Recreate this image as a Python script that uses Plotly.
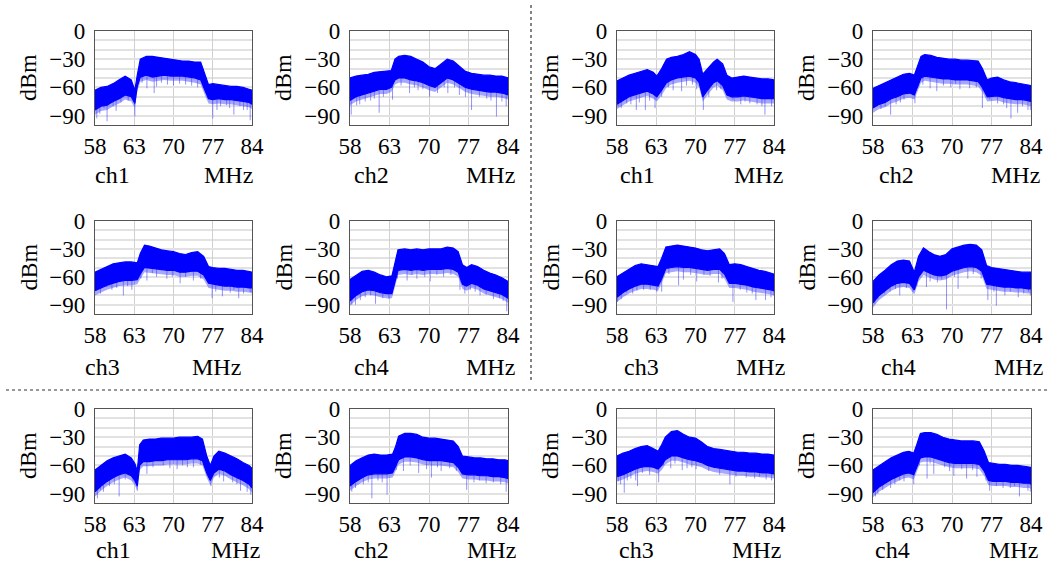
import numpy as np
import plotly.graph_objects as go

W, H = 1051, 566

# ---- axis ticks ----
X_TICK_POS = [58, 64.5, 71, 77.5, 84]
X_TICK_TEXT = ["58", "63", "70", "77", "84"]
Y_TICK_VALS = [0, -30, -60, -90]
Y_TICK_TEXT = ["0", "\u221230", "\u221260", "\u221290"]
CH_LABELS = ["ch1", "ch2", "ch1", "ch2", "ch3", "ch4", "ch3", "ch4", "ch1", "ch2", "ch3", "ch4"]

# ---- panel 1 ----
p1_x = [58, 59, 60, 61, 62, 63, 64, 64.6, 65.0, 65.5, 66.5, 67.5, 68.5, 69.5, 70.5, 71.5, 72.5, 73.5, 74.5, 75.5, 76.2, 76.8, 77.5, 78.5, 79.5, 80.5, 81.5, 82.5, 83.5, 84]
p1_top = [-63, -60, -59, -56, -52, -48, -52, -63, -47, -30, -27, -27, -28, -29, -30, -31, -32, -32, -33, -33, -45, -57, -56, -57, -58, -59, -59, -60, -62, -63]
p1_bot = [-84, -80, -79, -75, -72, -68, -70, -77, -59, -49, -47, -49, -48, -47, -48, -48, -48, -49, -50, -52, -63, -72, -73, -72, -73, -73, -74, -75, -76, -78]
p1_sx = [58.3, 58.8, 60.0, 61.5, 64.6, 66.6, 67.8, 68.2, 71.0, 73.0, 77.5, 78.2, 81.0, 82.6, 83.7,
         59.5, 61.0, 62.3, 63.5, 65.8, 69.0, 70.0, 72.0, 74.0, 75.0, 78.8, 79.8, 80.3, 82.0, 83.2]
p1_sy = [-93, -88, -96, -85, -91, -61, -66, -59, -58, -57, -93, -84, -89, -84, -95,
         -82, -80, -76, -74, -55, -55, -57, -56, -58, -60, -80, -79, -82, -80, -84]

# ---- panel 2 ----
p2_x = [58, 59, 60, 61, 62, 63, 64, 64.8, 65.4, 66, 67, 68, 69, 70, 71, 72, 73, 74, 75, 76, 77, 78, 79, 80, 81, 82, 83, 84]
p2_top = [-50, -48, -47, -46, -44, -43, -42, -42, -30, -27, -26, -27, -30, -33, -38, -40, -35, -30, -32, -38, -43, -45, -46, -47, -47, -48, -48, -50]
p2_bot = [-74, -70, -68, -66, -64, -62, -62, -60, -52, -50, -50, -52, -53, -55, -58, -60, -55, -50, -52, -56, -60, -62, -63, -64, -65, -65, -66, -68]
p2_sx = [58.2, 59.1, 60.5, 62.8, 65.0, 67.8, 69.2, 71.1, 74.1, 76.0, 78.0, 79.3, 82.1, 83.7,
         59.6, 61.4, 62.0, 63.5, 66.4, 68.6, 70.0, 72.4, 73.5, 75.2, 77.0, 80.5, 81.2, 83.0]
p2_sy = [-89, -79, -75, -87, -73, -66, -63, -70, -66, -68, -84, -70, -91, -80,
         -78, -74, -72, -70, -58, -60, -62, -66, -60, -60, -70, -72, -74, -75]

# ---- panel 3 ----
p3_x = [58, 59, 60, 61, 62, 63, 64, 64.6, 65.4, 66.2, 67, 68, 69, 70, 71, 71.6, 72.2, 73, 74, 74.6, 75.5, 76.2, 77, 78, 79, 80, 81, 82, 83, 84]
p3_top = [-53, -50, -47, -45, -43, -41, -44, -48, -40, -30, -28, -27, -25, -22, -25, -30, -46, -40, -33, -30, -35, -47, -50, -49, -48, -49, -50, -51, -51, -52]
p3_bot = [-78, -74, -70, -68, -66, -64, -67, -70, -63, -55, -52, -50, -49, -48, -50, -55, -70, -63, -55, -53, -58, -68, -70, -70, -69, -70, -71, -72, -72, -72]
p3_sx = [58.2, 59.6, 61.2, 62.7, 64.3, 65.4, 67.3, 68.7, 72.3, 74.5, 77.2, 80.0, 82.5, 83.6,
         58.7, 60.3, 61.7, 63.4, 66.5, 69.5, 70.5, 71.2, 73.2, 75.2, 78.5, 79.2, 81.2, 82.0]
p3_sy = [-80, -77, -84, -84, -82, -70, -63, -64, -84, -63, -73, -77, -89, -80,
         -82, -78, -76, -74, -60, -58, -57, -62, -70, -62, -78, -75, -78, -80]

# ---- panel 4 ----
p4_x = [58, 59, 60, 61, 62, 63, 64, 64.8, 65.3, 65.9, 66.5, 67.5, 68.5, 69.5, 70.5, 71.5, 72.5, 73.5, 74.5, 75.3, 76.0, 76.8, 77.5, 78.5, 79.5, 80.5, 81.5, 82.5, 83.5, 84]
p4_top = [-61, -58, -55, -52, -49, -46, -45, -47, -38, -27, -25, -26, -28, -29, -30, -30, -31, -31, -32, -32, -40, -52, -50, -49, -52, -54, -55, -56, -57, -58]
p4_bot = [-82, -78, -76, -72, -70, -67, -66, -68, -60, -50, -48, -49, -50, -51, -51, -52, -52, -52, -53, -54, -60, -70, -70, -69, -71, -72, -73, -73, -74, -75]
p4_sx = [58.4, 60.9, 63.1, 64.9, 67.4, 68.5, 72.3, 73.9, 76.0, 77.2, 80.7, 81.8, 83.5,
         59.3, 60.0, 61.8, 62.5, 66.2, 69.6, 70.8, 71.6, 75.0, 78.5, 79.5, 80.0, 82.6, 83.9]
p4_sy = [-80, -89, -73, -77, -61, -64, -62, -61, -82, -73, -93, -87, -84,
         -83, -80, -78, -76, -57, -58, -60, -56, -60, -77, -78, -82, -80, -84]

# ---- panel 5 ----
p5_x = [58, 59, 60, 61, 62, 63, 64, 65, 65.5, 66.2, 67, 68, 69, 70, 71, 72, 73, 74, 75, 76, 76.8, 77.5, 78.5, 79.5, 80.5, 81.5, 82.5, 83.5, 84]
p5_top = [-55, -52, -49, -46, -45, -44, -44, -45, -35, -26, -27, -29, -31, -32, -33, -35, -36, -34, -33, -38, -49, -50, -51, -51, -52, -53, -53, -54, -55]
p5_bot = [-75, -72, -69, -67, -65, -64, -64, -63, -57, -50, -50, -51, -52, -53, -53, -55, -55, -54, -54, -58, -67, -68, -69, -70, -70, -71, -71, -72, -72]
p5_sx = [58.3, 59.9, 62.7, 64.1, 66.6, 68.2, 69.9, 72.1, 74.3, 77.4, 79.1, 81.8, 83.7,
         58.9, 60.8, 61.6, 63.4, 65.6, 67.5, 70.8, 73.0, 75.5, 78.0, 80.4, 81.0, 82.6, 84.0]
p5_sy = [-74, -71, -80, -74, -64, -60, -62, -67, -64, -83, -81, -83, -77,
         -78, -74, -72, -70, -62, -56, -60, -60, -62, -76, -77, -74, -78, -78]

# ---- panel 6 ----
p6_x = [58, 59, 60, 61, 62, 63, 64, 64.9, 65.4, 65.9, 67, 68, 69, 70, 71, 72, 73, 74, 75, 75.8, 76.5, 77.2, 78, 79, 80, 81, 82, 83, 84]
p6_top = [-63, -58, -54, -53, -55, -58, -60, -59, -45, -31, -30, -31, -30, -31, -30, -30, -30, -28, -29, -33, -47, -50, -47, -49, -53, -56, -58, -61, -65]
p6_bot = [-86, -80, -76, -74, -75, -77, -78, -78, -66, -53, -52, -53, -52, -53, -52, -52, -52, -51, -52, -55, -68, -70, -67, -69, -73, -75, -77, -79, -83]
p6_sx = [58.3, 59.7, 62.2, 64.4, 67.4, 69.0, 71.2, 73.4, 76.1, 76.9, 79.4, 81.6, 83.8,
         58.9, 60.5, 61.4, 63.4, 65.8, 68.2, 70.3, 72.3, 74.6, 77.8, 78.6, 80.4, 82.6, 83.2]
p6_sy = [-90, -85, -89, -84, -64, -62, -65, -60, -74, -78, -80, -84, -97,
         -90, -82, -80, -83, -62, -58, -60, -58, -58, -74, -76, -79, -83, -86]

# ---- panel 7 ----
p7_x = [58, 59, 60, 61, 62, 63, 64, 64.8, 65.4, 66.1, 67, 68, 69, 70, 71, 72, 73, 74, 75, 75.8, 76.6, 77.5, 78.5, 79.5, 80.5, 81.5, 82.5, 83.5, 84]
p7_top = [-60, -56, -52, -48, -46, -47, -48, -49, -40, -28, -27, -26, -27, -28, -29, -31, -32, -31, -30, -35, -47, -46, -47, -49, -51, -53, -54, -56, -57]
p7_bot = [-82, -77, -73, -70, -68, -68, -69, -70, -62, -51, -50, -49, -50, -50, -51, -52, -53, -52, -52, -57, -67, -67, -68, -69, -71, -72, -73, -74, -75]
p7_sx = [58.1, 59.6, 62.4, 65.4, 68.2, 69.0, 71.2, 73.4, 74.8, 77.2, 81.0, 82.6,
         58.7, 60.6, 61.3, 63.5, 64.6, 66.6, 70.2, 72.4, 75.4, 78.4, 79.5, 80.4, 83.5, 84.0]
p7_sy = [-87, -77, -74, -76, -69, -63, -65, -59, -66, -87, -85, -85,
         -84, -78, -75, -74, -76, -57, -58, -58, -62, -74, -77, -78, -82, -80]

# ---- panel 8 ----
p8_x = [58, 59, 60, 61, 62, 63, 64, 64.8, 65.5, 66.3, 67.2, 68, 69, 70, 71, 72, 73, 74, 75, 75.9, 76.7, 77.5, 78.5, 79.5, 80.5, 81.5, 82.5, 83.5, 84]
p8_top = [-65, -58, -53, -47, -43, -42, -43, -55, -38, -29, -33, -36, -38, -36, -30, -28, -26, -25, -26, -31, -48, -50, -51, -52, -53, -54, -55, -55, -55]
p8_bot = [-88, -80, -75, -70, -67, -66, -67, -74, -60, -53, -56, -58, -59, -58, -54, -52, -50, -49, -50, -54, -68, -69, -70, -71, -71, -72, -72, -73, -73]
p8_sx = [58.3, 59.9, 62.4, 64.6, 66.8, 67.4, 70.1, 72.0, 73.6, 76.9, 78.3, 79.7, 81.9, 83.6,
         58.8, 60.8, 61.7, 63.5, 65.2, 68.6, 69.3, 71.4, 74.5, 75.8, 77.9, 80.6, 82.8, 83.9]
p8_sy = [-89, -78, -80, -76, -71, -65, -95, -73, -62, -85, -91, -80, -82, -76,
         -84, -76, -73, -72, -70, -66, -63, -60, -57, -62, -76, -76, -78, -80]

# ---- panel 9 ----
p9_x = [58, 59, 60, 61, 62, 63, 64, 64.6, 65.0, 65.4, 66, 67, 68, 69, 70, 71, 72, 73, 74, 75, 75.8, 76.5, 77.1, 77.7, 78.5, 79.5, 80.5, 81.5, 82.5, 83.5, 84]
p9_top = [-65, -60, -55, -52, -50, -48, -52, -58, -66, -38, -33, -32, -32, -31, -31, -31, -30, -30, -30, -29, -32, -50, -60, -50, -45, -47, -50, -53, -57, -60, -63]
p9_bot = [-88, -82, -77, -73, -70, -68, -71, -76, -82, -60, -56, -56, -55, -55, -54, -54, -54, -54, -53, -53, -55, -68, -76, -68, -64, -66, -70, -73, -76, -80, -84]
p9_sx = [58.4, 58.9, 62.0, 65.0, 66.6, 71.6, 73.3, 75.5, 77.2, 79.3, 82.1, 83.8,
         59.4, 60.4, 61.2, 63.0, 64.3, 67.6, 69.3, 70.4, 72.5, 74.3, 78.6, 80.8, 81.5, 83.2]
p9_sy = [-95, -86, -93, -87, -69, -64, -62, -59, -82, -77, -87, -91,
         -88, -82, -80, -75, -77, -62, -60, -63, -60, -62, -73, -78, -80, -88]

# ---- panel 10 ----
p10_x = [58, 59, 60, 61, 62, 63, 64, 65, 65.5, 66, 67, 68, 69, 70, 71, 72, 73, 74, 75, 75.8, 76.5, 77.5, 78.5, 79.5, 80.5, 81.5, 82.5, 83.5, 84]
p10_top = [-60, -55, -52, -49, -48, -49, -49, -48, -40, -29, -26, -26, -27, -30, -31, -31, -32, -33, -34, -40, -50, -51, -52, -52, -53, -53, -54, -54, -55]
p10_bot = [-82, -77, -73, -70, -69, -69, -69, -68, -62, -54, -51, -51, -52, -54, -55, -55, -55, -56, -57, -62, -69, -70, -70, -71, -71, -72, -72, -73, -74]
p10_sx = [58.3, 61.6, 64.1, 66.8, 69.3, 71.4, 73.0, 74.4, 77.2, 80.4, 83.7,
          58.9, 60.2, 61.0, 62.6, 63.3, 65.6, 67.9, 70.6, 72.4, 75.5, 78.4, 79.3, 81.6, 82.8]
p10_sy = [-88, -95, -91, -66, -68, -73, -66, -63, -86, -79, -88,
          -84, -80, -78, -76, -78, -65, -60, -64, -62, -66, -78, -76, -78, -80]

# ---- panel 11 ----
p11_x = [58, 59, 60, 61, 62, 63, 64, 64.8, 65.4, 66, 67, 68, 69, 70, 71, 72, 73, 74, 75, 76, 77, 78, 79, 80, 81, 82, 83, 84]
p11_top = [-50, -47, -45, -42, -40, -39, -42, -45, -38, -30, -24, -23, -27, -30, -31, -35, -40, -42, -43, -44, -45, -46, -46, -47, -47, -48, -48, -49]
p11_bot = [-72, -70, -67, -64, -62, -61, -62, -64, -60, -54, -50, -50, -52, -54, -55, -57, -60, -62, -63, -64, -65, -66, -66, -67, -67, -68, -68, -69]
p11_sx = [58.2, 59.2, 61.1, 61.4, 63.4, 64.9, 66.9, 68.8, 69.6, 76.7, 79.4, 82.7,
          58.6, 59.7, 60.3, 62.2, 65.7, 67.6, 70.4, 71.1, 73.2, 75.0, 77.7, 80.8, 81.6, 83.6]
p11_sy = [-77, -89, -76, -82, -70, -78, -63, -65, -63, -80, -73, -75,
          -80, -76, -74, -68, -60, -58, -62, -64, -66, -70, -72, -74, -72, -76]

# ---- panel 12 ----
p12_x = [58, 59, 60, 61, 62, 63, 63.9, 64.7, 65.2, 65.8, 66.5, 67.5, 68.5, 69.5, 70.5, 71.5, 72.5, 73.5, 74.5, 75.5, 76.3, 77, 77.8, 78.8, 79.8, 80.8, 81.8, 82.8, 83.8, 84]
p12_top = [-65, -60, -56, -52, -49, -46, -45, -47, -38, -26, -25, -25, -27, -30, -32, -33, -34, -34, -34, -35, -45, -57, -58, -59, -59, -60, -60, -61, -62, -62]
p12_bot = [-89, -83, -79, -75, -72, -69, -68, -70, -62, -52, -51, -51, -53, -55, -57, -58, -58, -58, -58, -59, -66, -76, -77, -77, -77, -78, -78, -79, -79, -80]
p12_sx = [58.4, 60.9, 63.1, 64.7, 66.9, 68.0, 71.3, 73.4, 75.1, 77.2, 79.4, 82.1, 83.5,
          58.8, 59.6, 61.6, 62.4, 65.6, 67.4, 69.8, 70.6, 72.6, 74.4, 76.6, 78.3, 80.6, 81.3, 83.9]
p12_sy = [-93, -84, -77, -80, -74, -69, -71, -74, -72, -87, -84, -93, -87,
          -90, -86, -80, -76, -60, -58, -62, -66, -64, -65, -76, -82, -84, -82, -88]

PANELS = [
    (p1_x, p1_top, p1_bot, p1_sx, p1_sy),
    (p2_x, p2_top, p2_bot, p2_sx, p2_sy),
    (p3_x, p3_top, p3_bot, p3_sx, p3_sy),
    (p4_x, p4_top, p4_bot, p4_sx, p4_sy),
    (p5_x, p5_top, p5_bot, p5_sx, p5_sy),
    (p6_x, p6_top, p6_bot, p6_sx, p6_sy),
    (p7_x, p7_top, p7_bot, p7_sx, p7_sy),
    (p8_x, p8_top, p8_bot, p8_sx, p8_sy),
    (p9_x, p9_top, p9_bot, p9_sx, p9_sy),
    (p10_x, p10_top, p10_bot, p10_sx, p10_sy),
    (p11_x, p11_top, p11_bot, p11_sx, p11_sy),
    (p12_x, p12_top, p12_bot, p12_sx, p12_sy),
]

# ---- layout geometry (pixels) ----
COLS = [(95, 252), (350, 508), (617, 774), (873, 1031)]
ROWS = [(31, 125), (221, 314), (409, 503)]
CH_LEFT = [93, 352, 618, 877, 83, 352, 622, 879, 94, 352, 617, 873]
MHZ_RIGHT = [255, 517, 785, 1042, 243, 517, 787, 1045, 262, 518, 783, 1040]
LABEL_ROW_Y = [175, 367, 550]

FONT = "Liberation Serif, Times New Roman, serif"
BLUE = "rgb(0,0,255)"
FRINGE = 5  # dB of lighter fringe drawn under each band

fig = go.Figure()
layout = dict(
    width=W, height=H, margin=dict(l=0, r=0, t=0, b=0, autoexpand=False),
    paper_bgcolor="white", plot_bgcolor="white", showlegend=False,
)
annotations = []

for i, (xs, top, bot, sx, sy) in enumerate(PANELS):
    r, c = divmod(i, 4)
    x0, x1 = COLS[c]
    y0, y1 = ROWS[r]
    k = "" if i == 0 else str(i + 1)
    xa, ya = "x" + k, "y" + k
    xs_l = list(xs)
    bot_a = np.array(bot, dtype=float)

    # downward spikes (drawn beneath the band)
    spx, spy = [], []
    anchor = np.interp(sx, xs, bot)
    for a, b, yy in zip(sx, anchor, sy):
        spx += [a, a, None]
        spy += [b + 4, yy, None]
    fig.add_trace(go.Scatter(x=spx, y=spy, mode="lines", xaxis=xa, yaxis=ya,
                             line=dict(color="rgba(40,40,255,0.5)", width=1),
                             hoverinfo="skip"))
    # light fringe under the band
    fig.add_trace(go.Scatter(x=xs_l + xs_l[::-1], y=list(bot_a + 2) + list(bot_a - FRINGE)[::-1],
                             mode="lines", fill="toself", fillcolor="rgba(60,60,255,0.45)",
                             line=dict(width=0), xaxis=xa, yaxis=ya, hoverinfo="skip"))
    # dense band
    fig.add_trace(go.Scatter(x=xs_l + xs_l[::-1], y=list(top) + list(bot)[::-1],
                             mode="lines", fill="toself", fillcolor=BLUE,
                             line=dict(color=BLUE, width=1.2), xaxis=xa, yaxis=ya,
                             hoverinfo="skip"))

    layout["xaxis" + k] = dict(
        domain=[x0 / W, x1 / W], range=[58, 84], anchor=ya, automargin=False,
        tickmode="array", tickvals=X_TICK_POS, ticktext=X_TICK_TEXT,
        showgrid=True, gridcolor="#d0d0d0", gridwidth=1, zeroline=False,
        showline=True, mirror=True, linecolor="#555555", linewidth=1.3,
        ticks="", ticklabelstandoff=0,
        tickfont=dict(family=FONT, size=23, color="black"), fixedrange=True,
    )
    layout["yaxis" + k] = dict(
        domain=[1 - y1 / H, 1 - y0 / H], range=[-100, 0], anchor=xa, automargin=False,
        tickmode="array", tickvals=Y_TICK_VALS, ticktext=Y_TICK_TEXT,
        showgrid=True, gridcolor="#e2e2e2", gridwidth=1.5, zeroline=False,
        minor=dict(tickmode="array", tickvals=[-10, -20, -40, -50, -70, -80],
                   showgrid=True, gridcolor="#e2e2e2", gridwidth=1.5, ticks=""),
        showline=True, mirror=True, linecolor="#555555", linewidth=1.3,
        ticks="", ticklabelstandoff=4,
        tickfont=dict(family=FONT, size=23, color="black"), fixedrange=True,
    )

    # y title
    annotations.append(dict(text="dBm", x=(x0 - 67) / W, y=1 - ((y0 + y1) / 2) / H,
                            xref="paper", yref="paper", showarrow=False, textangle=-90,
                            xanchor="center", yanchor="middle",
                            font=dict(family=FONT, size=24, color="black")))
    ly = 1 - LABEL_ROW_Y[r] / H
    annotations.append(dict(text=CH_LABELS[i], x=CH_LEFT[i] / W, y=ly, xref="paper", yref="paper",
                            showarrow=False, xanchor="left", yanchor="middle",
                            font=dict(family=FONT, size=24, color="black")))
    annotations.append(dict(text="MHz", x=MHZ_RIGHT[i] / W, y=ly, xref="paper", yref="paper",
                            showarrow=False, xanchor="right", yanchor="middle",
                            font=dict(family=FONT, size=24, color="black")))

layout["annotations"] = annotations
layout["shapes"] = [
    dict(type="line", xref="paper", yref="paper", x0=531 / W, x1=531 / W,
         y0=1 - 5 / H, y1=1 - 382 / H, line=dict(color="#333333", width=1.2, dash="dot")),
    dict(type="line", xref="paper", yref="paper", x0=6 / W, x1=1048 / W,
         y0=1 - 390 / H, y1=1 - 390 / H, line=dict(color="#333333", width=1.2, dash="dot")),
]
fig.update_layout(**layout)
fig.write_html("out.html", config={"displayModeBar": False},
               post_script="document.body.style.margin='0';document.body.style.overflow='hidden';")
